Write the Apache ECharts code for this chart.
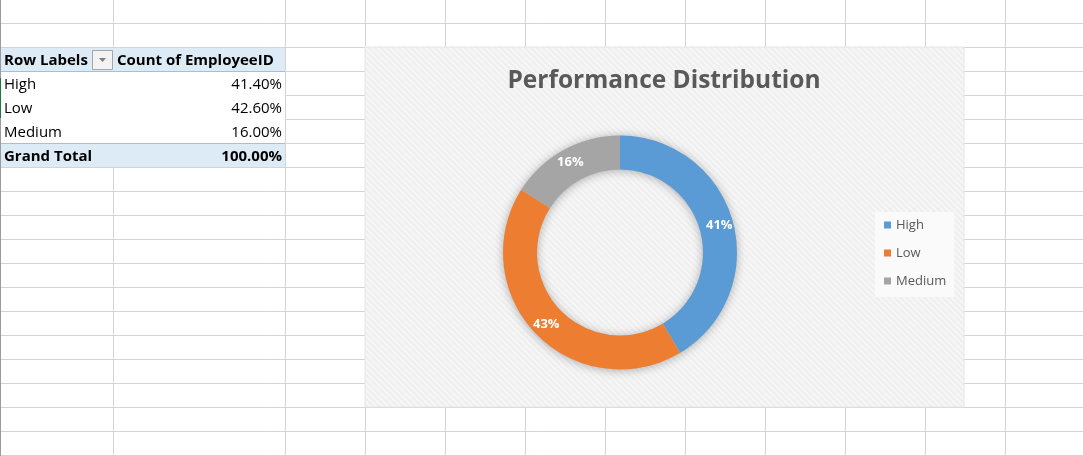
<!DOCTYPE html>
<html>
<head>
<meta charset="utf-8">
<script src="https://cdn.jsdelivr.net/npm/echarts@6/dist/echarts.min.js"></script>
<style>
  html, body { margin: 0; padding: 0; background: #ffffff; }
  #chart { width: 1083px; height: 456px; }
</style>
</head>
<body>
<div id="chart"></div>
<script>
// ---- data ----
const categories = ['High', 'Low', 'Medium'];
const shares = [41.4, 42.6, 16.0];          // percent of EmployeeID count
const headerLabels = ['Row Labels', 'Count of EmployeeID'];
const totalLabel = 'Grand Total';
const chartTitle = 'Performance Distribution';
const colors = ['#5B9BD5', '#ED7D31', '#A5A5A5'];

// ---- layout ----
const FONT = '"Open Sans", "Noto Sans", sans-serif';
const colLines = [113, 285, 365, 445, 525, 605, 685, 765, 845, 925, 1005];
const rowLines = [];
for (let y = 23; y <= 456; y += 24) rowLines.push(y);
const area = { x: 365, y: 47, w: 599, h: 360 };
const pieCenter = [620, 252.5];

// diagonal hatch texture for chart area
const pc = document.createElement('canvas');
pc.width = 6; pc.height = 6;
const ctx = pc.getContext('2d');
ctx.fillStyle = '#efefef';
ctx.fillRect(0, 0, 6, 6);
ctx.strokeStyle = '#f8f8f8';
ctx.lineWidth = 1.6;
[[-6, -6, 12, 12], [-6, 0, 6, 12], [0, -6, 12, 6]].forEach(function (l) {
  ctx.beginPath(); ctx.moveTo(l[0], l[1]); ctx.lineTo(l[2], l[3]); ctx.stroke();
});

const els = [];
// spreadsheet grid
colLines.forEach(function (x) {
  els.push({ type: 'line', silent: true, z: 0,
    shape: { x1: x + 0.5, y1: 0, x2: x + 0.5, y2: 456 },
    style: { stroke: '#d4d4d4', lineWidth: 1 } });
});
rowLines.forEach(function (y) {
  els.push({ type: 'line', silent: true, z: 0,
    shape: { x1: 0, y1: y + 0.5, x2: 1083, y2: y + 0.5 },
    style: { stroke: '#d4d4d4', lineWidth: 1 } });
});
els.push({ type: 'line', silent: true, z: 1,
  shape: { x1: 0.5, y1: 0, x2: 0.5, y2: 456 }, style: { stroke: '#9b9b9b', lineWidth: 1 } });
els.push({ type: 'line', silent: true, z: 1,
  shape: { x1: 1, y1: 78, x2: 1, y2: 118 }, style: { stroke: '#217346', lineWidth: 2 } });

// pivot table
els.push({ type: 'rect', silent: true, z: 1, shape: { x: 1, y: 48, width: 284, height: 23 }, style: { fill: '#ddebf7' } });
els.push({ type: 'rect', silent: true, z: 1, shape: { x: 1, y: 72, width: 284, height: 71 }, style: { fill: '#ffffff' } });
els.push({ type: 'rect', silent: true, z: 1, shape: { x: 1, y: 144, width: 284, height: 23 }, style: { fill: '#ddebf7' } });
els.push({ type: 'line', silent: true, z: 2, shape: { x1: 1, y1: 71.5, x2: 285, y2: 71.5 }, style: { stroke: '#9bc2e6', lineWidth: 1 } });
els.push({ type: 'line', silent: true, z: 2, shape: { x1: 1, y1: 143.5, x2: 285, y2: 143.5 }, style: { stroke: '#9bc2e6', lineWidth: 1 } });
// dropdown button
els.push({ type: 'rect', silent: true, z: 2, shape: { x: 92.5, y: 50.5, width: 20, height: 19 }, style: { fill: '#f3f3f3', stroke: '#a6a6a6', lineWidth: 1 } });
els.push({ type: 'polygon', silent: true, z: 3, shape: { points: [[99, 58], [106, 58], [102.5, 62]] }, style: { fill: '#7f7f7f' } });

function cellText(text, x, y, align, bold) {
  els.push({ type: 'text', silent: true, z: 3,
    style: { text: text, x: x, y: y, align: align, verticalAlign: 'middle',
      font: (bold ? 'bold ' : '') + '15px ' + FONT, fill: '#000000' } });
}
cellText(headerLabels[0], 4, 61, 'left', true);
cellText(headerLabels[1], 117, 61, 'left', true);
let total = 0;
categories.forEach(function (c, i) {
  cellText(c, 4, 85 + i * 24, 'left', false);
  cellText(shares[i].toFixed(2) + '%', 282, 85 + i * 24, 'right', false);
  total += shares[i];
});
cellText(totalLabel, 4, 157, 'left', true);
cellText(total.toFixed(2) + '%', 282, 157, 'right', true);

// chart area
els.push({ type: 'rect', silent: true, z: 4,
  shape: { x: area.x, y: area.y, width: area.w, height: area.h },
  style: { fill: { image: pc, repeat: 'repeat' }, stroke: '#e6e6e6', lineWidth: 1 } });
// soft shadow under the doughnut
els.push({ type: 'ring', silent: true, z: 5,
  shape: { cx: pieCenter[0], cy: pieCenter[1], r: 117, r0: 83 },
  style: { fill: '#c8c8c8', shadowBlur: 10, shadowColor: 'rgba(0,0,0,0.3)', shadowOffsetX: 0, shadowOffsetY: 1 } });

const chart = echarts.init(document.getElementById('chart'), null, { renderer: 'canvas' });
chart.setOption({
  animation: false,
  backgroundColor: '#ffffff',
  color: colors,
  graphic: { elements: els },
  title: {
    text: chartTitle,
    left: 659,
    textAlign: 'center',
    top: 64,
    z: 10,
    textStyle: { fontFamily: FONT, fontSize: 24.5, fontWeight: 'bold', color: '#595959' }
  },
  legend: {
    data: categories,
    orient: 'vertical',
    left: 875,
    top: 212,
    z: 10,
    icon: 'rect',
    itemWidth: 7,
    itemHeight: 7,
    itemGap: 14,
    padding: [6, 8, 9, 9],
    backgroundColor: '#fafafa',
    selectedMode: false,
    textStyle: { fontFamily: FONT, fontSize: 13, lineHeight: 14, color: '#595959', padding: [0, 0, 0, 0] }
  },
  series: [{
    type: 'pie',
    z: 8,
    center: pieCenter,
    radius: [83, 117],
    startAngle: 90,
    clockwise: true,
    avoidLabelOverlap: false,
    label: {
      show: true,
      position: 'inside',
      formatter: function (p) { return Math.round(p.percent) + '%'; },
      color: '#ffffff',
      fontFamily: FONT,
      fontSize: 13,
      fontWeight: 'bold'
    },
    labelLine: { show: false },
    emphasis: { disabled: true },
    itemStyle: { borderWidth: 0 },
    data: categories.map(function (c, i) { return { name: c, value: shares[i] }; })
  }]
});
</script>
</body>
</html>
